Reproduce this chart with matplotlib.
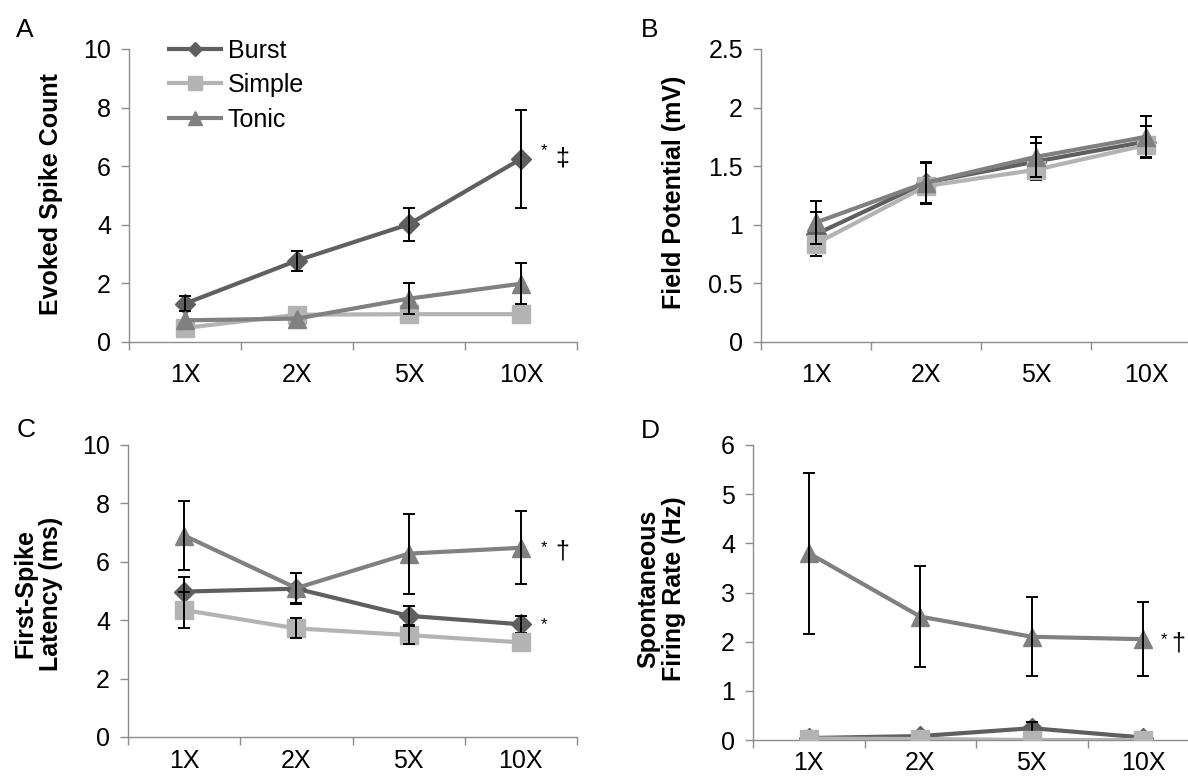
import matplotlib
matplotlib.use("Agg")
import matplotlib.pyplot as plt

plt.rcParams['font.family'] = ['Liberation Sans', 'DejaVu Sans']

nan = float('nan')
doses = ['1X', '2X', '5X', '10X']

# A - evoked spike count (nan = error bar hidden behind the marker)
a_burst = [1.31, 2.78, 4.02, 6.25]
a_burst_err = [0.25, 0.34, 0.57, 1.67]
a_simple = [0.48, 0.93, 0.95, 0.95]
a_simple_err = [nan, nan, nan, nan]
a_tonic = [0.74, 0.8, 1.48, 1.99]
a_tonic_err = [nan, nan, 0.54, 0.69]

# B - field potential
b_burst = [0.92, 1.36, 1.54, 1.71]
b_burst_err = [0.19, 0.18, 0.16, 0.13]
b_simple = [0.84, 1.33, 1.47, 1.68]
b_simple_err = [nan, nan, nan, nan]
b_tonic = [1.02, 1.36, 1.58, 1.75]
b_tonic_err = [0.18, 0.17, 0.17, 0.18]

# C - first spike latency
c_burst = [4.98, 5.08, 4.15, 3.86]
c_burst_err = [0.5, 0.54, 0.32, 0.29]
c_simple = [4.35, 3.72, 3.49, 3.24]
c_simple_err = [0.6, 0.34, 0.3, nan]
c_tonic = [6.9, 5.1, 6.28, 6.48]
c_tonic_err = [1.18, 0.5, 1.37, 1.25]

# D - spontaneous firing rate
d_burst = [0.04, 0.08, 0.24, 0.05]
d_burst_err = [nan, nan, 0.13, nan]
d_simple = [0.03, 0.02, 0.0, 0.0]
d_simple_err = [nan, nan, nan, nan]
d_tonic = [3.8, 2.51, 2.1, 2.05]
d_tonic_err = [1.64, 1.03, 0.8, 0.75]

burst_col = '#5f5f5f'
simple_col = '#b3b3b3'
tonic_col = '#808080'
axis_col = '#8c8c8c'
fs = 18

W, H = 1188, 779
fig = plt.figure(figsize=(W / 100, H / 100), dpi=100)


def px_axes(x0, x1, ytop, ybot):
    return fig.add_axes([x0 / W, 1 - ybot / H, (x1 - x0) / W, (ybot - ytop) / H])


def draw_panel(ax, series, ymax, ystep, yfmt, xpad=15):
    x = range(len(doses))
    z = 3
    for vals, errs, col, mk, ms, lab in series:
        ax.plot(x, vals, color=col, lw=3, marker=mk, ms=ms, mec=col, mfc=col,
                label=lab, zorder=z, solid_joinstyle='round')
        ax.errorbar(x, vals, yerr=errs, fmt='none', ecolor='black', elinewidth=1.4,
                    capsize=4, capthick=1.4, zorder=z + 0.5)
        z += 1
    ax.set_xlim(-0.5, 3.5)
    ax.set_ylim(0, ymax)
    ticks = [i * ystep for i in range(int(round(ymax / ystep)) + 1)]
    ax.set_yticks(ticks)
    ax.set_yticklabels([yfmt(t) for t in ticks])
    ax.set_xticks(list(x))
    ax.set_xticklabels(doses)
    ax.set_xticks([-0.5, 0.5, 1.5, 2.5, 3.5], minor=True)
    ax.tick_params(axis='x', which='major', length=0, pad=xpad, labelsize=fs)
    ax.tick_params(axis='x', which='minor', length=6, width=1, color=axis_col, direction='out')
    ax.tick_params(axis='y', length=6, width=1, color=axis_col, pad=7, labelsize=fs)
    for s in ['top', 'right']:
        ax.spines[s].set_visible(False)
    for s in ['left', 'bottom']:
        ax.spines[s].set_color(axis_col)
        ax.spines[s].set_linewidth(1)
    ax.patch.set_alpha(0)


def fmt_int(v):
    return '%d' % round(v)


def fmt_half(v):
    return ('%g' % v)


axA = px_axes(129, 577, 49, 342)
draw_panel(axA, [(a_burst, a_burst_err, burst_col, 'D', 10, 'Burst'),
                 (a_simple, a_simple_err, simple_col, 's', 13, 'Simple'),
                 (a_tonic, a_tonic_err, tonic_col, '^', 13, 'Tonic')], 10, 2, fmt_int)
axA.legend(loc='upper left', bbox_to_anchor=(0.089, 1.035), frameon=False, fontsize=fs,
           handlelength=2.1, handletextpad=0.25, labelspacing=0.42, borderpad=0,
           borderaxespad=0, markerscale=0.75)

axB = px_axes(761, 1201, 49, 342)
draw_panel(axB, [(b_burst, b_burst_err, burst_col, 'D', 10, 'Burst'),
                 (b_simple, b_simple_err, simple_col, 's', 13, 'Simple'),
                 (b_tonic, b_tonic_err, tonic_col, '^', 13, 'Tonic')], 2.5, 0.5, fmt_half)

axC = px_axes(128, 577, 445, 737)
draw_panel(axC, [(c_burst, c_burst_err, burst_col, 'D', 10, 'Burst'),
                 (c_simple, c_simple_err, simple_col, 's', 13, 'Simple'),
                 (c_tonic, c_tonic_err, tonic_col, '^', 13, 'Tonic')], 10, 2, fmt_int, xpad=9)

axD = px_axes(753, 1199, 445, 740)
draw_panel(axD, [(d_burst, d_burst_err, burst_col, 'D', 10, 'Burst'),
                 (d_simple, d_simple_err, simple_col, 's', 13, 'Simple'),
                 (d_tonic, d_tonic_err, tonic_col, '^', 13, 'Tonic')], 6, 1, fmt_int, xpad=8)

# y labels
fig.text(51 / W, 1 - 194 / H, 'Evoked Spike Count', rotation=90, ha='center', va='center',
         fontsize=fs, fontweight='bold')
fig.text(674 / W, 1 - 192 / H, 'Field Potential (mV)', rotation=90, ha='center', va='center',
         fontsize=fs, fontweight='bold')
fig.text(38 / W, 1 - 594 / H, 'First-Spike\nLatency (ms)', rotation=90, ha='center',
         va='center', fontsize=fs, fontweight='bold', linespacing=1.1)
fig.text(661 / W, 1 - 589 / H, 'Spontaneous\nFiring Rate (Hz)', rotation=90, ha='center',
         va='center', fontsize=fs, fontweight='bold', linespacing=1.1)

# panel letters
for lx, ly, letter in [(25, 30, 'A'), (650, 30, 'B'), (26, 430, 'C'), (650, 431, 'D')]:
    fig.text(lx / W, 1 - ly / H, letter, ha='center', va='center', fontsize=fs + 1)


# significance marks
def mark(ax, y, text, dx, dy, size):
    ax.annotate(text, xy=(3, y), xytext=(dx, dy), textcoords='offset pixels',
                ha='center', va='center', fontsize=size, annotation_clip=False)


mark(axA, a_burst[3], '*', 23, 8, 12)
mark(axA, a_burst[3], '\u2021', 41, 0, fs)
mark(axC, c_tonic[3], '*', 23, 0, 12)
mark(axC, c_tonic[3], '\u2020', 41, -4, fs)
mark(axC, c_burst[3], '*', 23, 0, 12)
mark(axD, d_tonic[3], '*', 21, 0, 12)
mark(axD, d_tonic[3], '\u2020', 35, -4, fs)

fig.savefig('out.png', dpi=100)
